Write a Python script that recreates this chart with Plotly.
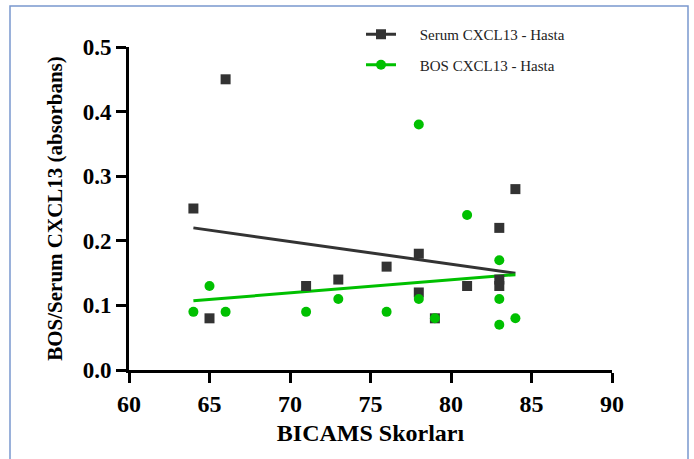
import numpy as np
import plotly.graph_objects as go

# Data
serum_x = [64, 65, 66, 71, 73, 76, 78, 78, 79, 81, 83, 83, 83, 84]
serum_y = [0.25, 0.08, 0.45, 0.13, 0.14, 0.16, 0.18, 0.12, 0.08, 0.13, 0.22, 0.14, 0.13, 0.28]
bos_x = [64, 65, 66, 71, 73, 76, 78, 78, 79, 81, 83, 83, 83, 84]
bos_y = [0.09, 0.13, 0.09, 0.09, 0.11, 0.09, 0.38, 0.11, 0.08, 0.24, 0.17, 0.11, 0.07, 0.08]
x_ticks = [60, 65, 70, 75, 80, 85, 90]
y_ticks = [0.0, 0.1, 0.2, 0.3, 0.4, 0.5]
serum_name = "Serum CXCL13 - Hasta"
bos_name = "BOS CXCL13 - Hasta"
x_title = "BICAMS Skorları"
y_title = "BOS/Serum CXCL13 (absorbans)"

DARK = "#333333"
GREEN = "#00C000"
SERIF = "Liberation Serif"
PAD = "\u00a0" * 5


def fit_line(x, y):
    m, b = np.polyfit(np.array(x, float), np.array(y, float), 1)
    xs = np.array([min(x), max(x)], float)
    return xs, m * xs + b


fig = go.Figure()

sx, sy = fit_line(serum_x, serum_y)
bx, by = fit_line(bos_x, bos_y)

# regression lines (no legend)
fig.add_trace(go.Scatter(x=sx, y=sy, mode="lines", line=dict(color=DARK, width=3),
                         showlegend=False, hoverinfo="skip"))
fig.add_trace(go.Scatter(x=bx, y=by, mode="lines", line=dict(color=GREEN, width=3),
                         showlegend=False, hoverinfo="skip"))

# points
fig.add_trace(go.Scatter(x=serum_x, y=serum_y, mode="markers", name=serum_name,
                         showlegend=False,
                         marker=dict(symbol="square", size=10, color=DARK)))
fig.add_trace(go.Scatter(x=bos_x, y=bos_y, mode="markers", name=bos_name,
                         showlegend=False,
                         marker=dict(symbol="circle", size=10, color=GREEN)))

# legend-only traces with line + marker style
fig.add_trace(go.Scatter(x=[None], y=[None], mode="lines+markers", name=PAD + serum_name,
                         legendgroup="a",
                         line=dict(color=DARK, width=3),
                         marker=dict(symbol="square", size=10, color=DARK)))
fig.add_trace(go.Scatter(x=[None], y=[None], mode="lines+markers", name=PAD + bos_name,
                         legendgroup="b",
                         line=dict(color=GREEN, width=3),
                         marker=dict(symbol="circle", size=10, color=GREEN)))

L, R, T, B = 129, 82, 47, 89
W, H = 694, 459
pw = W - L - R
ph = H - T - B


def px_x(p):
    return (p - L) / pw


def px_y(p):
    return (H - B - p) / ph


fig.add_shape(type="rect", xref="paper", yref="paper",
              x0=px_x(10), x1=px_x(688), y0=px_y(475), y1=px_y(6),
              line=dict(color="#7A98CE", width=1.5), fillcolor="rgba(0,0,0,0)", layer="below")

fig.update_layout(
    width=W, height=H,
    margin=dict(l=L, r=R, t=T, b=B, autoexpand=False),
    paper_bgcolor="white", plot_bgcolor="white",
    font=dict(family=SERIF, color="black"),
    legend=dict(x=px_x(361), y=px_y(18), xanchor="left", yanchor="top",
                font=dict(family=SERIF, size=15, color="#222222"),
                bgcolor="rgba(0,0,0,0)", tracegroupgap=8, traceorder="grouped",
                itemwidth=30),
    xaxis=dict(range=[60, 90], tickmode="array", tickvals=x_ticks,
               ticktext=[str(v) for v in x_ticks],
               showgrid=False, zeroline=False, showline=True, linecolor="black",
               linewidth=3, ticks="outside", ticklen=10, tickwidth=3, tickcolor="black",
               tickfont=dict(family=SERIF, size=24, weight="bold", color="black"),
               title=dict(text=x_title, standoff=9,
                          font=dict(family=SERIF, size=24, weight="bold", color="black")),
               automargin=False),
    yaxis=dict(range=[0, 0.5], tickmode="array", tickvals=y_ticks,
               ticktext=[f"{v:.1f}" for v in y_ticks],
               showgrid=False, zeroline=False, showline=True, linecolor="black",
               linewidth=3, ticks="outside", ticklen=10, tickwidth=3, tickcolor="black",
               tickfont=dict(family=SERIF, size=23, weight="bold", color="black"),
               title=dict(text=y_title, standoff=15,
                          font=dict(family=SERIF, size=21, weight="bold", color="black")),
               automargin=False),
)

fig.write_html("out.html")
